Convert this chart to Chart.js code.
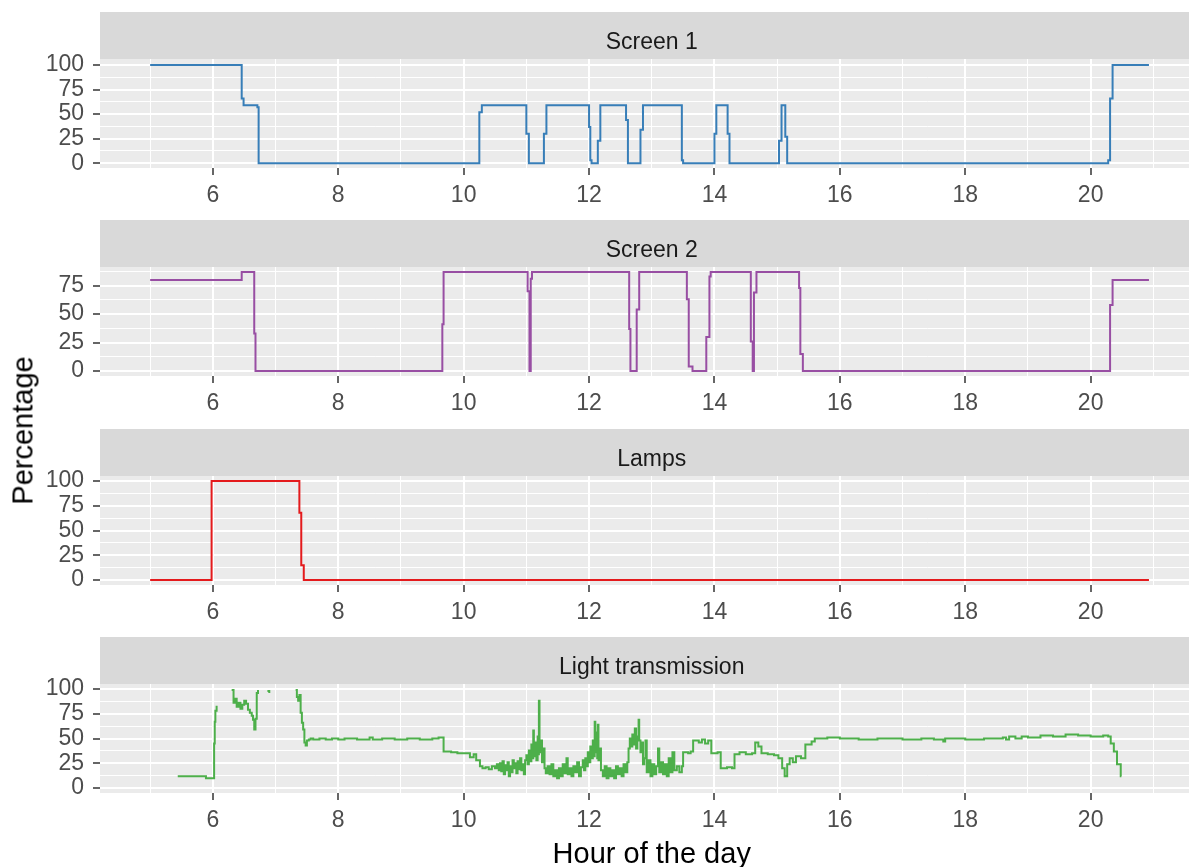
<!DOCTYPE html>
<html>
<head>
<meta charset="utf-8">
<script src="https://cdn.jsdelivr.net/npm/chart.js@4.4.1/dist/chart.umd.min.js"></script>
<style>
  html, body { margin: 0; padding: 0; background: #ffffff; }
  body { width: 1189px; height: 867px; overflow: hidden; position: relative;
         font-family: "Liberation Sans", Arial, sans-serif; }
  canvas { position: absolute; left: 0; }
  #ytitle { position: absolute; width: 200px; height: 29px; line-height: 29px; font-size: 29px;
            text-align: center; color: #000; white-space: nowrap;
            left: -76.8px; top: 415.5px; transform: rotate(-90deg); }
  #xtitle { position: absolute; width: 400px; height: 29px; line-height: 29px; font-size: 29px;
            text-align: center; color: #000; white-space: nowrap;
            left: 451.75px; top: 838.5px; }
</style>
</head>
<body>
<canvas id="panel0"></canvas>
<canvas id="panel1"></canvas>
<canvas id="panel2"></canvas>
<canvas id="panel3"></canvas>
<div id="ytitle">Percentage</div>
<div id="xtitle">Hour of the day</div>
<script>
// ---- tick labels ----
const majorHours = [6, 8, 10, 12, 14, 16, 18, 20];
const minorHours = [5, 7, 9, 11, 13, 15, 17, 19, 21];
const majorPercent = [0, 25, 50, 75, 100];
const minorPercent = [12.5, 37.5, 62.5, 87.5];

// ---- Screen 1 (each value holds from its hour to the next) ----
const screen1Hours  = [5.00, 6.46, 6.49, 6.71, 6.73, 10.25, 10.29, 11.00, 11.04, 11.28, 11.32,
                       12.00, 12.02, 12.04, 12.14, 12.18, 12.59, 12.62, 12.82, 12.86, 13.48, 13.50,
                       14.00, 14.03, 14.21, 14.24, 15.03, 15.07, 15.13, 15.16, 20.28, 20.31, 20.35, 20.93];
const screen1Values = [100, 66, 59, 57, 0, 52, 59, 30, 0, 30, 59,
                       37, 3, 0, 23, 59, 44, 0, 34, 59, 3, 0,
                       30, 59, 30, 0, 23, 59, 27, 0, 3, 66, 100, 100];

// ---- Screen 2 ----
const screen2Hours  = [5.00, 6.46, 6.66, 6.68, 9.66, 9.68, 11.02, 11.05, 11.07, 11.09,
                       12.64, 12.66, 12.76, 12.80, 13.56, 13.59, 13.65, 13.87, 13.92, 13.94,
                       14.58, 14.61, 14.63, 14.67, 15.35, 15.37, 15.41, 20.31, 20.35, 20.93];
const screen2Values = [80, 87, 33, 0, 41, 87, 70, 0, 81, 87,
                       37, 0, 54, 87, 63, 4, 0, 30, 83, 87,
                       26, 0, 69, 87, 73, 15, 0, 58, 80, 80];

// ---- Lamps ----
const lampHours  = [5.00, 5.98, 7.38, 7.41, 7.45, 20.93];
const lampValues = [0, 100, 68, 15, 0, 0];

// ---- Light transmission (null = above the axis limit, not drawn) ----
const lightHours = [
  5.44, 5.89, 6.02, 6.03, 6.04, 6.06, 6.07,
  6.30, 6.33, 6.36, 6.38, 6.41, 6.44, 6.47, 6.50, 6.53, 6.56, 6.59, 6.62, 6.64, 6.66, 6.68, 6.70, 6.72, 6.76,
  6.87, 6.90, 6.92,
  7.32, 7.34, 7.36, 7.38, 7.40, 7.42, 7.44, 7.46, 7.48, 7.50, 7.53, 7.56, 7.60, 7.70, 7.80, 7.90,
  8.00, 8.10, 8.30, 8.50, 8.55, 8.70, 8.90, 9.10, 9.30, 9.50, 9.60,
  9.68, 9.80, 9.90, 10.00, 10.10, 10.16, 10.20,
  10.26, 10.30, 10.35, 10.40, 10.45, 10.50, 10.53, 10.56, 10.58, 10.60,
  10.62, 10.64, 10.66, 10.68, 10.70, 10.72, 10.74, 10.76, 10.78, 10.80,
  10.82, 10.84, 10.86, 10.88, 10.90, 10.92, 10.94, 10.96, 10.98, 11.00,
  11.02, 11.04, 11.06, 11.08, 11.10, 11.11, 11.12, 11.14, 11.16, 11.18,
  11.19, 11.20, 11.21, 11.23, 11.25, 11.27, 11.29, 11.31, 11.34, 11.37,
  11.40, 11.43, 11.46, 11.49, 11.52, 11.55, 11.58, 11.61, 11.64, 11.66,
  11.69, 11.72, 11.75, 11.78, 11.81, 11.84, 11.87, 11.90, 11.92, 11.94,
  11.96, 11.98, 12.00, 12.02, 12.04, 12.06, 12.08, 12.09, 12.10, 12.12,
  12.13, 12.14, 12.15, 12.17, 12.19, 12.22, 12.25, 12.28, 12.31, 12.34,
  12.37, 12.40, 12.43, 12.46, 12.49, 12.52, 12.55, 12.58, 12.61, 12.63,
  12.65, 12.67, 12.69, 12.71, 12.73, 12.75, 12.77, 12.79, 12.80, 12.82,
  12.84, 12.86, 12.88, 12.90, 12.92, 12.95, 12.98, 13.01, 13.04, 13.07,
  13.10, 13.12, 13.15, 13.18, 13.21, 13.24, 13.27, 13.30, 13.33, 13.36,
  13.40, 13.44, 13.48,
  13.50, 13.58, 13.62, 13.66, 13.75, 13.80, 13.85, 13.90, 13.95, 14.05, 14.10, 14.20, 14.28,
  14.32, 14.40, 14.50, 14.60, 14.65, 14.70, 14.75, 14.85, 14.95, 15.02, 15.08, 15.12, 15.16, 15.20,
  15.25, 15.30, 15.38, 15.45, 15.55, 15.60, 15.80, 16.00, 16.30, 16.60, 17.00, 17.30, 17.50, 17.65,
  17.68, 18.00, 18.30, 18.60, 18.65, 18.70, 18.80, 18.90, 19.00, 19.20, 19.40, 19.60, 19.80, 20.00,
  20.20, 20.28, 20.32, 20.37, 20.42, 20.48, 20.49
];
const lightValues = [
  12, 10, 45, 67, 78, 83, null,
  99, 86, 90, 82, 86, 80, 84, 88, 85, 79, 76, 73, 69, 59, 70, 96, 99, null,
  98, 96, null,
  99, 92, 88, 94, 76, 66, 59, 46, 43, 48, 49, 50, 49, 50, 49, 50,
  49, 50, 49, 51, 49, 50, 49, 50, 49, 50, 51,
  37, 36, 35, 35, 31, 34, 28,
  22, 20, 21, 19, 22, 20, 24, 18, 25, 17,
  27, 14, 23, 18, 26, 12, 22, 16, 28, 20,
  25, 15, 27, 19, 30, 18, 24, 14, 28, 33,
  24, 38, 27, 44, 30, 58, 32, 46, 28, 52,
  34, 88, 36, 48, 26, 40, 20, 15, 22, 14,
  24, 12, 18, 10, 20, 12, 24, 15, 30, 14,
  20, 12, 22, 16, 26, 12, 21, 28, 18, 30,
  22, 36, 26, 42, 30, 48, 32, 67, 36, 56,
  30, 64, 28, 40, 18, 12, 22, 10, 20, 12,
  18, 10, 22, 14, 20, 12, 24, 16, 26, 40,
  50, 42, 54, 44, 60, 40, 52, 69, 48, 36,
  46, 24, 30, 48, 16, 28, 12, 24, 14, 22,
  40, 16, 26, 14, 24, 12, 30, 16, 36, 18,
  22, 16, 22,
  36, 35, 37, 48, 46, 49, 45, 48, 35, 36, 20, 21, 20,
  34, 36, 34, 35, 46, 42, 35, 34, 33, 30, 20, 12, 24, 30,
  26, 32, 30, 44, 47, 50, 51, 50, 49, 50, 49, 50, 49, 47,
  50, 49, 50, 51, 49, 52, 50, 52, 51, 53, 52, 54, 53, 52,
  53, 52, 45, 37, 24, 12, 12
];

// ---- panel layout ----
const FONT = '"Liberation Sans", Arial, sans-serif';
const CANVAS_W = 1210;
const STRIP_H = 47;
const PLOT_H = 109;
const AXIS_H = 50;
const stripTops = [12, 220, 429, 637];

const panels = [
  { title: 'Screen 1', hours: screen1Hours, values: screen1Values, color: '#377EB8', yMin: -4.8, yMax: 106.1 },
  { title: 'Screen 2', hours: screen2Hours, values: screen2Values, color: '#984EA3', yMin: -4.35, yMax: 91.35 },
  { title: 'Lamps', hours: lampHours, values: lampValues, color: '#E41A1C', yMin: -5, yMax: 105 },
  { title: 'Light transmission', hours: lightHours, values: lightValues, color: '#4DAF4A', yMin: -5, yMax: 105 }
];

// grey panel background plus the facet strip with its label
const facetPanel = {
  id: 'facetPanel',
  beforeDraw(chart, args, opts) {
    const { ctx, chartArea: a } = chart;
    ctx.save();
    ctx.fillStyle = '#EBEBEB';
    ctx.fillRect(a.left, a.top, a.right - a.left, a.bottom - a.top);
    ctx.fillStyle = '#D9D9D9';
    ctx.fillRect(a.left, 0, a.right - a.left, a.top);
    ctx.fillStyle = '#1A1A1A';
    ctx.font = '23px ' + FONT;
    ctx.textAlign = 'center';
    ctx.textBaseline = 'middle';
    ctx.fillText(opts.text, (a.left + a.right) / 2, a.top / 2 + 7);
    ctx.restore();
  }
};

function isMajor(list, ctx) {
  return !!(ctx.tick && list.includes(ctx.tick.value));
}

panels.forEach((p, i) => {
  const canvas = document.getElementById('panel' + i);
  canvas.width = CANVAS_W;
  canvas.height = STRIP_H + PLOT_H + AXIS_H;
  canvas.style.top = stripTops[i] + 'px';

  const yTickValues = majorPercent.concat(minorPercent)
    .filter(v => v >= p.yMin && v <= p.yMax)
    .sort((a, b) => a - b);
  const xTickValues = majorHours.concat(minorHours).sort((a, b) => a - b);

  new Chart(canvas, {
    type: 'line',
    data: {
      datasets: [{
        data: p.hours.map((h, k) => ({ x: h, y: p.values[k] })),
        borderColor: p.color,
        borderWidth: 2,
        pointRadius: 0,
        stepped: true,
        fill: false,
        spanGaps: false
      }]
    },
    options: {
      responsive: false,
      animation: false,
      devicePixelRatio: 1,
      layout: { padding: { top: STRIP_H, left: 0, right: 6.5, bottom: 0 } },
      plugins: {
        legend: { display: false },
        tooltip: { enabled: false },
        facetPanel: { text: p.title }
      },
      scales: {
        x: {
          type: 'linear',
          min: 4.2,
          max: 21.8,
          afterBuildTicks: s => { s.ticks = xTickValues.map(v => ({ value: v })); },
          afterFit: s => { s.height = AXIS_H; },
          border: { display: false },
          grid: {
            color: '#FFFFFF',
            lineWidth: ctx => isMajor(majorHours, ctx) ? 2 : 1,
            tickColor: ctx => isMajor(majorHours, ctx) ? '#333333' : 'rgba(0,0,0,0)',
            tickLength: 7,
            tickWidth: 1.5
          },
          ticks: {
            autoSkip: false,
            maxRotation: 0,
            padding: 7,
            color: '#4D4D4D',
            font: { family: FONT, size: 23 },
            callback: v => majorHours.includes(v) ? String(v) : ''
          }
        },
        y: {
          type: 'linear',
          min: p.yMin,
          max: p.yMax,
          afterBuildTicks: s => { s.ticks = yTickValues.map(v => ({ value: v })); },
          afterFit: s => { s.width = 100; },
          border: { display: false },
          grid: {
            color: '#FFFFFF',
            lineWidth: ctx => isMajor(majorPercent, ctx) ? 2 : 1,
            tickColor: ctx => isMajor(majorPercent, ctx) ? '#333333' : 'rgba(0,0,0,0)',
            tickLength: 7,
            tickWidth: 1.5
          },
          ticks: {
            autoSkip: false,
            padding: 9,
            color: '#4D4D4D',
            font: { family: FONT, size: 23 },
            callback: v => majorPercent.includes(v) ? String(v) : ''
          }
        }
      }
    },
    plugins: [facetPanel]
  });
});
</script>
</body>
</html>
